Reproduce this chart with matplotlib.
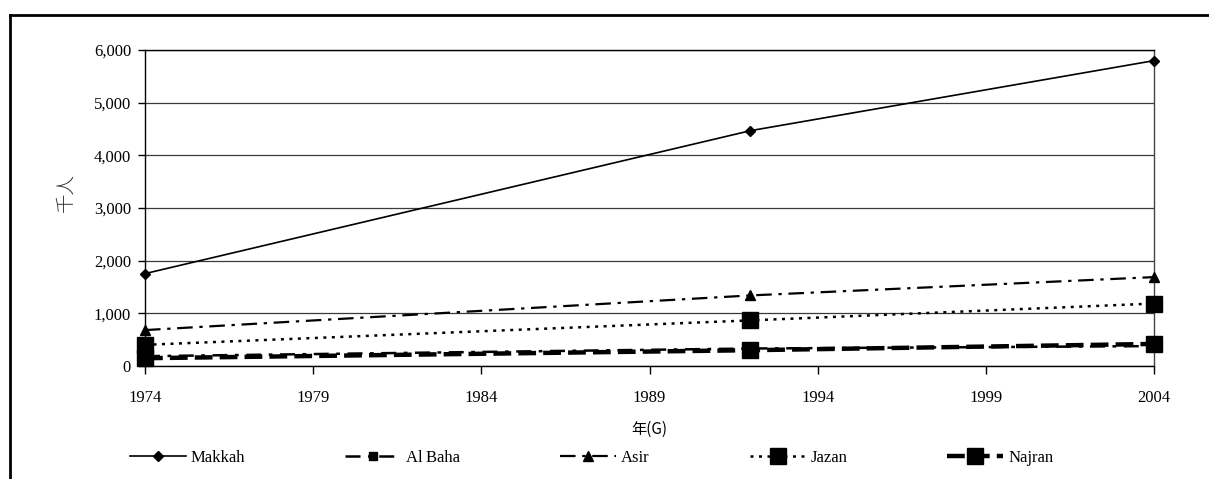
import matplotlib
matplotlib.use("Agg")
import matplotlib.pyplot as plt
from matplotlib.lines import Line2D

# Census years and regional populations (thousands)
years = [1974, 1992, 2004]
makkah = [1754, 4468, 5798]
al_baha = [186, 332, 378]
asir = [682, 1340, 1688]
jazan = [402, 866, 1186]
najran = [148, 300, 419]

series_names = ["Makkah", "Al\u2009Baha", "Asir", "Jazan", "Najran"]
x_ticks = [1974, 1979, 1984, 1989, 1994, 1999, 2004]
y_ticks = [0, 1000, 2000, 3000, 4000, 5000, 6000]
y_label = "千人"
x_label = "年(G)"

serif = ["Liberation Serif", "DejaVu Serif"]
cjk = ["Noto Sans CJK JP", "DejaVu Sans"]
plt.rcParams["font.family"] = serif

fig = plt.figure(figsize=(12.09, 4.79), dpi=100)
ax = fig.add_axes([145 / 1209, 1 - 366 / 479, (1154 - 145) / 1209, (366 - 50) / 479])

styles = [
    dict(data=makkah, ls="-", lw=1.2, marker="D", ms=5.5),
    dict(data=al_baha, ls=(0, (6, 3, 1.5, 3)), lw=1.8, marker="s", ms=5.5),
    dict(data=asir, ls=(0, (7, 3, 1.5, 3)), lw=1.6, marker="^", ms=7),
    dict(data=jazan, ls=(0, (1.2, 2.2)), lw=1.8, marker="s", ms=11),
    dict(data=najran, ls=(0, (4, 1.6)), lw=3.2, marker="s", ms=11),
]

handles = []
for name, st in zip(series_names, styles):
    line, = ax.plot(years, st["data"], color="black", linestyle=st["ls"],
                    linewidth=st["lw"], marker=st["marker"], markersize=st["ms"],
                    markerfacecolor="black", markeredgecolor="black",
                    clip_on=False, zorder=3, label=name)
    handles.append(line)

ax.set_xlim(1974, 2004)
ax.set_ylim(0, 6000)
ax.set_xticks(x_ticks)
ax.set_xticklabels([str(v) for v in x_ticks])
ax.set_yticks(y_ticks)
ax.set_yticklabels([f"{v:,}" for v in y_ticks])
ax.yaxis.grid(True, color="#3a3a3a", linewidth=0.9)
ax.set_axisbelow(True)

for side in ["left", "bottom", "top", "right"]:
    ax.spines[side].set_color("black")
    ax.spines[side].set_linewidth(1.0)
ax.spines["right"].set_color("#444444")

ax.tick_params(axis="y", direction="out", length=5, width=1, pad=5, labelsize=12)
ax.tick_params(axis="x", direction="out", length=6, width=1, pad=11, labelsize=12)

ax.set_ylabel(y_label, family=cjk, fontsize=14, color="#333333", fontweight="light")
ax.yaxis.set_label_coords(-0.068, 0.55)
ax.set_xlabel(x_label, fontsize=11, labelpad=11)
ax.xaxis.label.set_family(["Noto Sans CJK JP", "Liberation Serif"])

fig.legend(handles=handles, labels=series_names, loc="center left",
           bbox_to_anchor=(130 / 1209, 1 - 458 / 479), ncol=5, frameon=False,
           fontsize=12, handlelength=3.35, handletextpad=0.3, columnspacing=6.0,
           borderaxespad=0, borderpad=0)

# Outer frame around the chart area
fig.add_artist(Line2D([10 / 1209, 10 / 1209], [0, 1 - 15 / 479],
                      transform=fig.transFigure, color="black", lw=2))
fig.add_artist(Line2D([10 / 1209, 1], [1 - 15 / 479, 1 - 15 / 479],
                      transform=fig.transFigure, color="black", lw=2))

fig.savefig("out.png", dpi=100)
